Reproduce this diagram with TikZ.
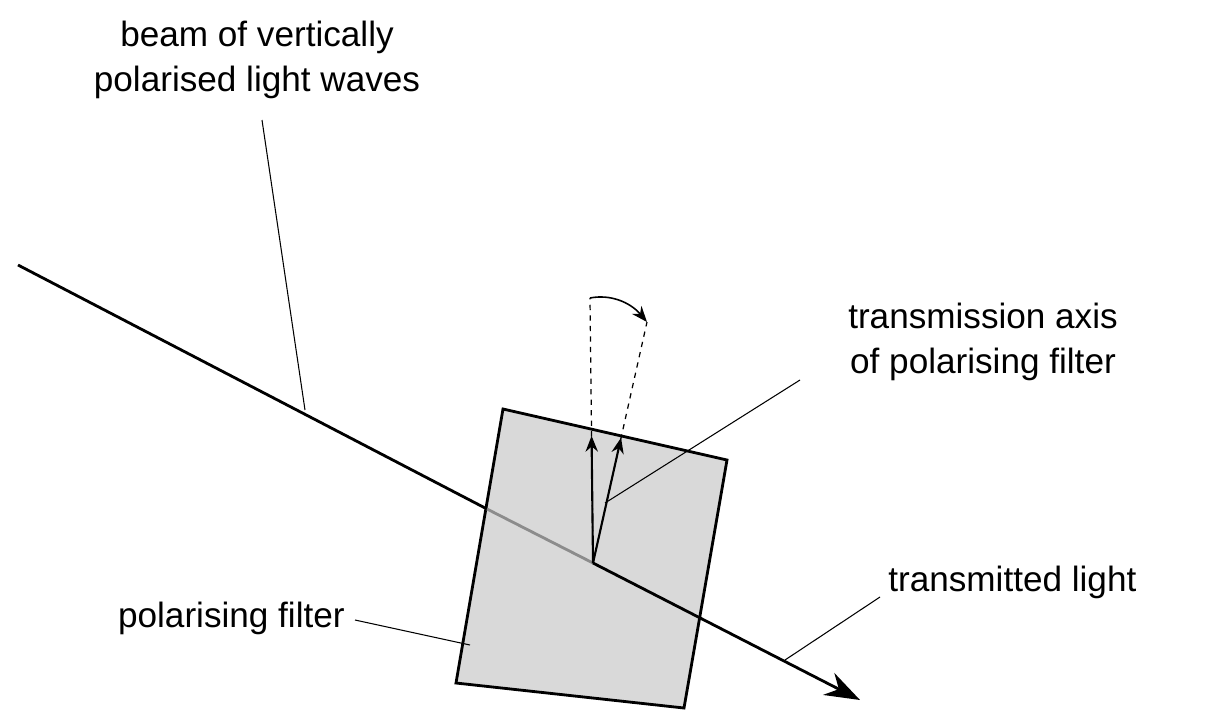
\documentclass[tikz,border=0pt]{standalone}
\usepackage{fontspec}
\setmainfont{Liberation Sans}
\usetikzlibrary{arrows.meta,calc}
\tikzset{
  beam/.style={line width=1.6pt},
  leader/.style={line width=0.6pt},
  axisarrow/.style={line width=1.2pt,-{Stealth[length=9pt,width=7pt]}},
  axisline/.style={dashed,line width=0.7pt},
  lbl/.style={font=\fontsize{20}{26}\selectfont,align=center,inner sep=0pt}
}
\begin{document}
\begin{tikzpicture}[x=0.02cm,y=-0.02cm]
  \useasboundingbox (0,0) rectangle (1224,724);

  % filter
  \draw[fill=black!15,line width=1.6pt] (503,409) -- (727,460) -- (684,708) -- (456,683) -- cycle;

  % beam
  \coordinate (start) at (18,265);
  \coordinate (entry) at (487,509);
  \coordinate (origin) at (593,563);
  \coordinate (tip) at (860,700);
  \draw[beam] (start) -- (entry);
  \draw[beam,black!45] (entry) -- (origin);
  \draw[beam,-{Stealth[length=20pt,width=14pt]}] (origin) -- (tip);

  % axes
  \coordinate (vtop) at (590,298);
  \coordinate (ttop) at (647,322);
  \draw[axisline] (origin) -- (vtop);
  \draw[axisline] (origin) -- (ttop);
  \draw[axisarrow] (origin) -- ($(origin)!0.48!(vtop)$) coordinate (vend);
  \draw[axisarrow] (origin) -- ($(origin)!0.52!(ttop)$) coordinate (tend);
  \draw[line width=0.9pt,-{Stealth[length=9pt,width=7pt]}] (vtop) .. controls (610,294) and (630,302) .. (ttop);

  % labels
  \node[lbl] (beamlbl) at (257,60) {beam of vertically\\polarised light waves};
  \node[lbl] (axislbl) at (983,342) {transmission axis\\of polarising filter};
  \node[lbl,anchor=west] (translbl) at (888,582) {transmitted light};
  \node[lbl,anchor=east] (filterlbl) at (345,618) {polarising filter};

  % leaders
  \coordinate (beamhit) at (305,410);
  \coordinate (axishit) at (605,503);
  \coordinate (transhit) at (785,660);
  \coordinate (filterhit) at (470,645);
  \draw[leader] (262,120) -- (beamhit);
  \draw[leader] (800,380) -- (axishit);
  \draw[leader] (880,597) -- (transhit);
  \draw[leader] (355,620) -- (filterhit);
\end{tikzpicture}
\end{document}
